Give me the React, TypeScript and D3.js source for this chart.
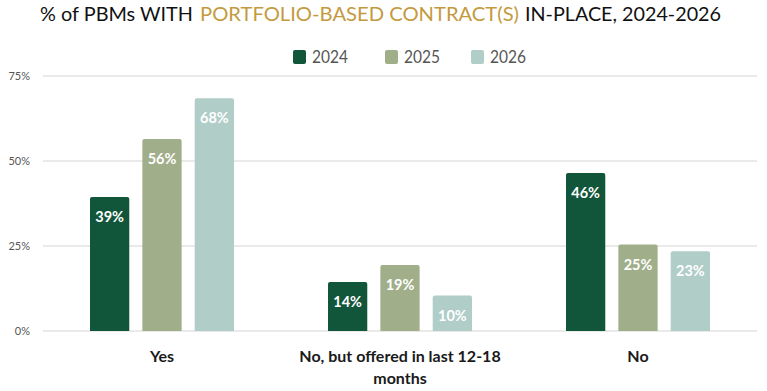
import { useEffect, useRef } from "react"
import * as d3 from "d3"

const CATEGORIES = ["Yes", "No, but offered in last 12-18 months", "No"]
const CATEGORY_LINES = [["Yes"], ["No, but offered in last 12-18", "months"], ["No"]]
const YEARS = ["2024", "2025", "2026"]
const VALUES_2024 = [39, 14, 46]
const VALUES_2025 = [56, 19, 25]
const VALUES_2026 = [68, 10, 23]
const Y_TICKS = [0, 25, 50, 75]

const COLORS: Record<string, string> = {
  "2024": "#11553a",
  "2025": "#a0ae8a",
  "2026": "#b0cdc8",
}

const W = 767
const H = 391
const MARGIN_L = 43
const MARGIN_R = 10
const Y_TOP = 76
const Y_BOT = 331
const FONT = "Lato, 'Open Sans', sans-serif"

// title pieces: text, colour, x start, width
const TITLE_PARTS: [string, string, number, number][] = [
  ["% of PBMs WITH", "#111", 40, 153],
  ["PORTFOLIO-BASED CONTRACT(S)", "#c39a3e", 200, 319],
  ["IN-PLACE, 2024-2026", "#111", 525, 196],
]

export default function App() {
  const svgRef = useRef<SVGSVGElement>(null)

  useEffect(() => {
    if (!svgRef.current) return
    const svg = d3.select(svgRef.current)
    svg.selectAll("*").remove()

    const series = [VALUES_2024, VALUES_2025, VALUES_2026]

    const x0 = d3.scaleBand().domain(CATEGORIES).range([MARGIN_L, W - MARGIN_R]).paddingInner(0).paddingOuter(0)
    const x1 = d3.scaleBand().domain(YEARS).range([0, 144]).paddingInner(0.25)
    const y = d3.scaleLinear().domain([0, 75]).range([Y_BOT, Y_TOP])

    // Title (squeezed to the narrower face of the original)
    TITLE_PARTS.forEach(([txt, col, tx, tw]) => {
      svg
        .append("text")
        .attr("x", tx)
        .attr("y", 21)
        .attr("textLength", tw)
        .attr("lengthAdjust", "spacingAndGlyphs")
        .attr("font-family", FONT)
        .attr("font-size", 20)
        .attr("fill", col)
        .text(txt)
    })

    // Legend
    const legendX = [293, 385, 471]
    YEARS.forEach((yr, i) => {
      svg
        .append("rect")
        .attr("x", legendX[i])
        .attr("y", 50)
        .attr("width", 13)
        .attr("height", 14)
        .attr("rx", 2)
        .attr("fill", COLORS[yr])
      svg
        .append("text")
        .attr("x", legendX[i] + 19)
        .attr("y", 63)
        .attr("textLength", 36)
        .attr("lengthAdjust", "spacingAndGlyphs")
        .attr("font-family", FONT)
        .attr("font-size", 17)
        .attr("fill", "#555")
        .text(yr)
    })

    // Gridlines + y labels
    Y_TICKS.forEach((t) => {
      svg
        .append("line")
        .attr("x1", MARGIN_L)
        .attr("x2", W - 10)
        .attr("y1", y(t))
        .attr("y2", y(t))
        .attr("stroke", "#e3e3e3")
        .attr("stroke-width", 1.5)
      svg
        .append("text")
        .attr("x", 30)
        .attr("y", y(t))
        .attr("dy", "0.35em")
        .attr("text-anchor", "end")
        .attr("font-family", FONT)
        .attr("font-size", 11)
        .attr("fill", "#555")
        .text(`${t}%`)
    })

    // Bars
    CATEGORIES.forEach((cat, ci) => {
      const gx = x0(cat)! + x0.bandwidth() / 2 - 72
      YEARS.forEach((yr, si) => {
        const v = series[si][ci]
        const bx = gx + x1(yr)!
        const bw = x1.bandwidth()
        const top = y(v) - 1.5
        const r = 2
        svg
          .append("path")
          .attr(
            "d",
            `M${bx},${Y_BOT}V${top + r}Q${bx},${top} ${bx + r},${top}H${bx + bw - r}Q${bx + bw},${top} ${bx + bw},${top + r}V${Y_BOT}Z`
          )
          .attr("fill", COLORS[yr])
        svg
          .append("text")
          .attr("x", bx + bw / 2)
          .attr("y", top + 25)
          .attr("text-anchor", "middle")
          .attr("font-family", FONT)
          .attr("font-size", 14.5)
          .attr("font-weight", 700)
          .attr("fill", "#fff")
          .text(`${v}%`)
      })

      // Category label
      CATEGORY_LINES[ci].forEach((line, li) => {
        svg
          .append("text")
          .attr("x", x0(cat)! + x0.bandwidth() / 2)
          .attr("y", 362 + li * 22)
          .attr("text-anchor", "middle")
          .attr("font-family", FONT)
          .attr("font-size", 16)
          .attr("font-weight", 700)
          .attr("fill", "#1a1a1a")
          .text(line)
      })
    })
  }, [])

  return (
    <div style={{ position: "absolute", left: 0, top: 0, width: W, height: H, background: "#fff" }}>
      <svg ref={svgRef} width={W} height={H} />
    </div>
  )
}
